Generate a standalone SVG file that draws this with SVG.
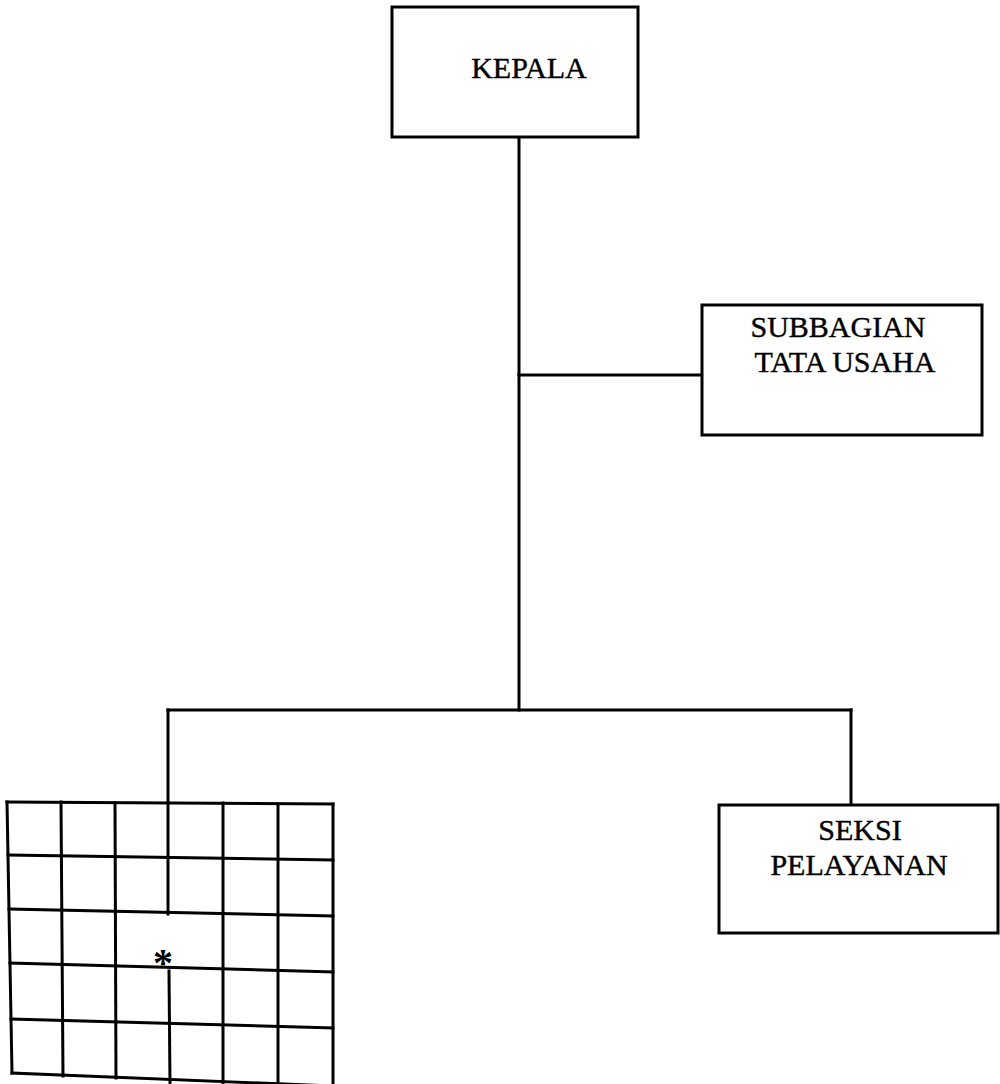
<svg xmlns="http://www.w3.org/2000/svg" width="1000" height="1084" viewBox="0 0 1000 1084">
  <style>
    .box { fill: #ffffff; stroke: #000000; stroke-width: 3; }
    .line { fill: none; stroke: #000000; stroke-width: 3; stroke-linecap: square; }
    .grid { fill: none; stroke: #000000; stroke-width: 3; stroke-linecap: square; }
    .label { font-family: "Liberation Serif", "Times New Roman", serif; font-size: 30px; fill: #000000; stroke: #000000; stroke-width: 0.4; text-anchor: middle; }
    .mark { font-family: "Liberation Serif", "Times New Roman", serif; font-size: 40px; font-weight: bold; fill: #000000; text-anchor: middle; }
  </style>
  <rect width="1000" height="1084" fill="#ffffff"/>

  <!-- connectors -->
  <g id="connectors">
    <line class="line" x1="519" y1="137" x2="519" y2="710"/>
    <line class="line" x1="519" y1="375" x2="702" y2="375"/>
    <line class="line" x1="168" y1="710" x2="851" y2="710"/>
    <line class="line" x1="168" y1="710" x2="168" y2="802"/>
    <line class="line" x1="851" y1="710" x2="851" y2="805"/>
  </g>

  <!-- head -->
  <g id="kepala">
    <rect class="box" x="392" y="7" width="246" height="130"/>
    <text class="label" x="529" y="78">KEPALA</text>
  </g>

  <!-- administration subsection -->
  <g id="subbagian-tata-usaha">
    <rect class="box" x="702" y="305" width="280" height="130"/>
    <text class="label" x="838" y="337">SUBBAGIAN</text>
    <text class="label" x="845" y="372">TATA USAHA</text>
  </g>

  <!-- service section -->
  <g id="seksi-pelayanan">
    <rect class="box" x="719" y="805" width="279" height="128"/>
    <text class="label" x="860" y="840">SEKSI</text>
    <text class="label" x="859" y="875">PELAYANAN</text>
  </g>

  <!-- hatched grid block -->
  <g id="grid-block">
    <!-- rows -->
    <line class="grid" x1="7" y1="802" x2="333" y2="804"/>
    <line class="grid" x1="8" y1="855" x2="333" y2="860"/>
    <line class="grid" x1="9" y1="909" x2="333" y2="916"/>
    <line class="grid" x1="10" y1="963" x2="333" y2="972"/>
    <line class="grid" x1="11" y1="1019" x2="333" y2="1028"/>
    <line class="grid" x1="12" y1="1073" x2="333" y2="1086"/>
    <!-- columns -->
    <line class="grid" x1="7" y1="802" x2="12" y2="1073"/>
    <line class="grid" x1="61" y1="802" x2="63" y2="1076"/>
    <line class="grid" x1="115" y1="803" x2="116" y2="1078"/>
    <line class="grid" x1="168" y1="803" x2="168" y2="914"/>
    <line class="grid" x1="169" y1="971" x2="170" y2="1084"/>
    <line class="grid" x1="223" y1="803" x2="223" y2="1084"/>
    <line class="grid" x1="278" y1="804" x2="278" y2="1084"/>
    <line class="grid" x1="333" y1="804" x2="333" y2="1084"/>
    <text class="mark" x="163" y="976">*</text>
  </g>
</svg>
